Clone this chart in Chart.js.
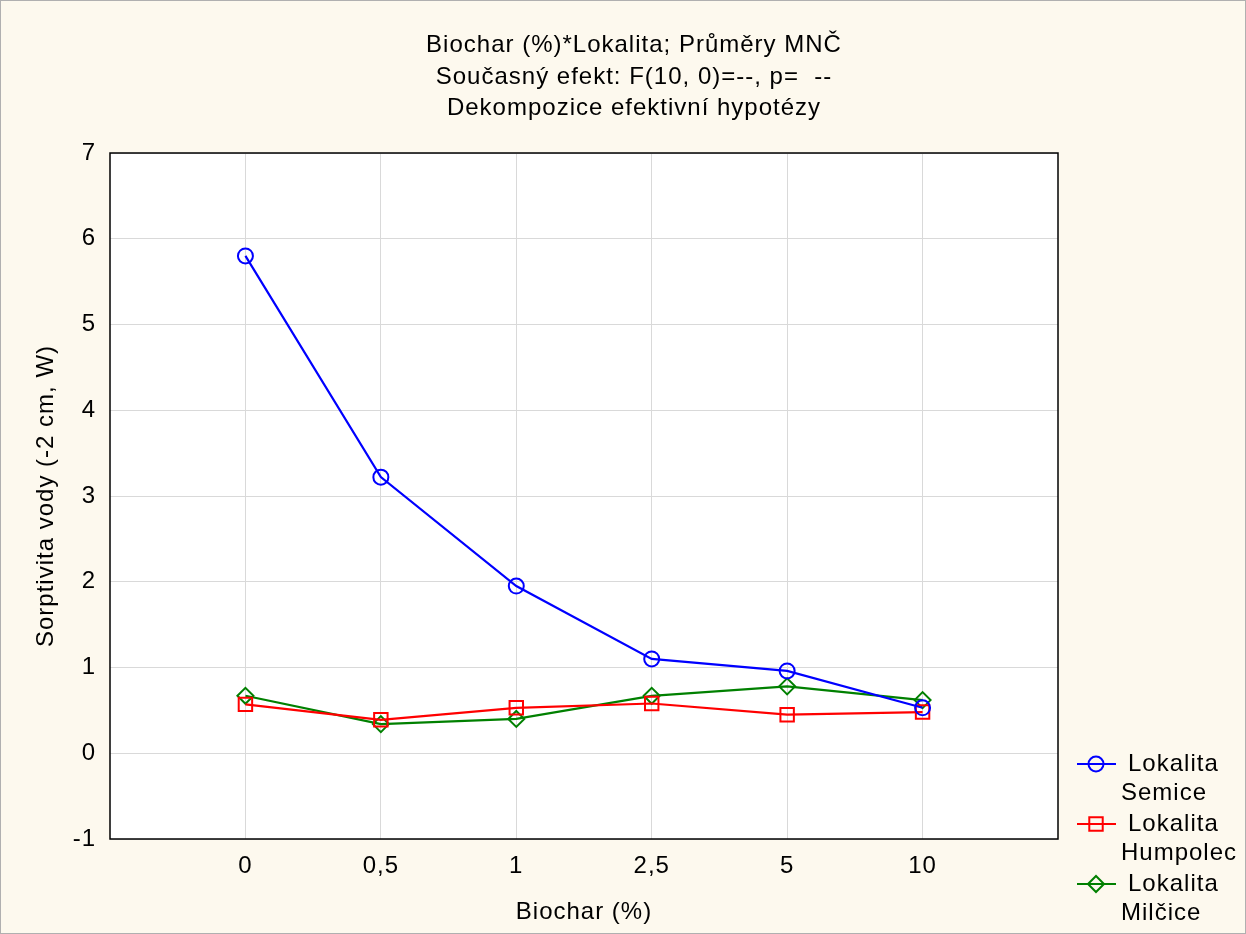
<!DOCTYPE html>
<html>
<head>
<meta charset="utf-8">
<script src="https://cdn.jsdelivr.net/npm/chart.js@4.4.1/dist/chart.umd.min.js"></script>
<style>
  html, body { margin: 0; padding: 0; background: #fdf9ee; }
</style>
</head>
<body>
<canvas id="chart" width="1246" height="934"></canvas>
<script>
// categories on x axis
const biochar = ["0", "0,5", "1", "2,5", "5", "10"];

// means per location
const semice = [5.80, 3.22, 1.95, 1.10, 0.96, 0.53];
const humpolec = [0.57, 0.39, 0.53, 0.58, 0.45, 0.48];
const milcice = [0.67, 0.34, 0.40, 0.67, 0.78, 0.62];

const seriesNames = [["Lokalita", "Semice"], ["Lokalita", "Humpolec"], ["Lokalita", "Milčice"]];
const yTicks = [-1, 0, 1, 2, 3, 4, 5, 6, 7];
const titleLines = ["Biochar (%)*Lokalita; Průměry MNČ", "Současný efekt: F(10, 0)=--, p=  --", "Dekompozice efektivní hypotézy"];

const FONT = "'Liberation Sans', Arial, sans-serif";
const FS = 24;

function toPoints(arr) {
    return arr.map((v, i) => ({ x: i, y: v }));
}

// text in the reference is a bit wider than Liberation Sans
const spacing = {
    id: "spacing",
    beforeUpdate(chart) { chart.ctx.letterSpacing = "1px"; },
    beforeDraw(chart) { chart.ctx.letterSpacing = "1px"; }
};

const plotBg = {
    id: "plotBg",
    beforeDraw(chart) {
        const a = chart.chartArea;
        const ctx = chart.ctx;
        ctx.save();
        ctx.fillStyle = "#fdf9ee";
        ctx.fillRect(0, 0, chart.width, chart.height);
        ctx.fillStyle = "#fff";
        ctx.fillRect(a.left, a.top, a.right - a.left, a.bottom - a.top);
        ctx.restore();
    }
};

// frame, title and legend
const decor = {
    id: "decor",
    afterDraw(chart) {
        const ctx = chart.ctx;
        const a = chart.chartArea;
        ctx.save();
        ctx.strokeStyle = "#000";
        ctx.lineWidth = 1.5;
        ctx.strokeRect(a.left, a.top, a.right - a.left, a.bottom - a.top);

        ctx.strokeStyle = "#b0b0b0";
        ctx.lineWidth = 1;
        ctx.strokeRect(0.5, 0.5, chart.width - 1, chart.height - 1);

        ctx.font = FS + "px " + FONT;
        ctx.fillStyle = "#000";
        ctx.textBaseline = "middle";
        ctx.textAlign = "center";
        titleLines.forEach((t, i) => ctx.fillText(t, 634, 45.5 + i * 31.5));

        ctx.textAlign = "left";
        chart.data.datasets.forEach((ds, i) => {
            const y = 764 + i * 60;
            ctx.strokeStyle = ds.borderColor;
            ctx.fillStyle = "transparent";
            ctx.lineWidth = 2;
            ctx.beginPath();
            ctx.moveTo(1077, y);
            ctx.lineTo(1116, y);
            ctx.stroke();
            Chart.helpers.drawPoint(ctx, {
                pointStyle: ds.pointStyle,
                radius: ds.pointRadius,
                borderWidth: 2
            }, 1096, y);
            ctx.fillStyle = "#000";
            ctx.fillText(seriesNames[i][0], 1128, y);
            ctx.fillText(seriesNames[i][1], 1121, y + 29);
        });
        ctx.restore();
    }
};

function makeDs(label, data, color, style, r) {
    return {
        label: label,
        data: toPoints(data),
        borderColor: color,
        backgroundColor: "transparent",
        borderWidth: 2.2,
        pointStyle: style,
        pointRadius: r,
        pointBorderWidth: 2,
        pointBackgroundColor: "transparent",
        tension: 0
    };
}

new Chart(document.getElementById("chart"), {
    type: "line",
    data: {
        datasets: [
            makeDs("Lokalita Semice", semice, "#0000ff", "circle", 7.5),
            makeDs("Lokalita Humpolec", humpolec, "#ff0000", "rect", 9.5),
            makeDs("Lokalita Milčice", milcice, "#008000", "rectRot", 8)
        ]
    },
    options: {
        responsive: false,
        animation: false,
        layout: { padding: { left: 0, right: 188, top: 153, bottom: 0 } },
        plugins: {
            legend: { display: false },
            tooltip: { enabled: false },
            title: { display: false }
        },
        scales: {
            x: {
                type: "linear",
                min: -1,
                max: 6,
                afterBuildTicks(scale) {
                    scale.ticks = biochar.map((_, i) => ({ value: i }));
                },
                afterFit(scale) { scale.height = 95; },
                ticks: {
                    color: "#000",
                    font: { family: FONT, size: FS },
                    padding: 13,
                    callback: (v) => biochar[v] ?? ""
                },
                grid: { color: "#d9d9d9", lineWidth: 1, drawTicks: false },
                border: { display: false },
                title: {
                    display: true,
                    text: "Biochar (%)",
                    color: "#000",
                    font: { family: FONT, size: FS },
                    padding: { top: 4, bottom: 7 }
                }
            },
            y: {
                min: -1,
                max: 7,
                afterBuildTicks(scale) {
                    scale.ticks = yTicks.map(v => ({ value: v }));
                },
                afterFit(scale) { scale.width = 110; },
                ticks: {
                    color: "#000",
                    font: { family: FONT, size: FS },
                    padding: 14
                },
                grid: { color: "#d9d9d9", lineWidth: 1, drawTicks: false },
                border: { display: false },
                title: {
                    display: true,
                    text: "Sorptivita vody (-2 cm, W)",
                    color: "#000",
                    font: { family: FONT, size: FS },
                    padding: { top: 32, bottom: 4 }
                }
            }
        }
    },
    plugins: [spacing, plotBg, decor]
});
</script>
</body>
</html>
